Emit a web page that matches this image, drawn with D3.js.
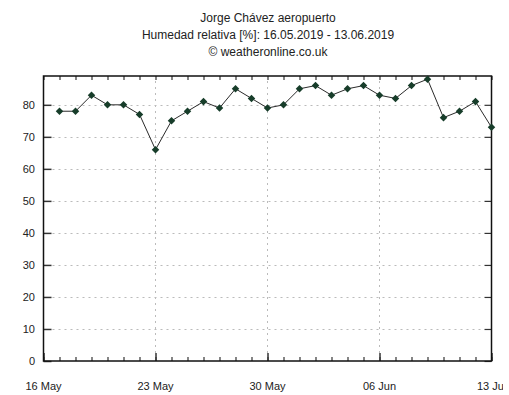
<!DOCTYPE html>
<html>
<head>
<meta charset="utf-8">
<script src="https://cdn.jsdelivr.net/npm/d3@7"></script>
<style>
  body { margin: 0; background: #fff; }
  text { font-family: "Liberation Sans", Arial, sans-serif; fill: #222; }
</style>
</head>
<body>
<div id="chart"></div>
<script>
// title lines
const titles = ['Jorge Chávez aeropuerto', 'Humedad relativa [%]: 16.05.2019 - 13.06.2019', '© weatheronline.co.uk'];

// daily humidity, 17 May .. 13 Jun 2019
const days = [
    '2019-05-17', '2019-05-18', '2019-05-19', '2019-05-20', '2019-05-21', '2019-05-22', '2019-05-23',
    '2019-05-24', '2019-05-25', '2019-05-26', '2019-05-27', '2019-05-28', '2019-05-29', '2019-05-30',
    '2019-05-31', '2019-06-01', '2019-06-02', '2019-06-03', '2019-06-04', '2019-06-05', '2019-06-06',
    '2019-06-07', '2019-06-08', '2019-06-09', '2019-06-10', '2019-06-11', '2019-06-12', '2019-06-13'
];
const humidity = [78, 78, 83, 80, 80, 77, 66, 75, 78, 81, 79, 85, 82, 79, 80, 85, 86, 83, 85, 86, 83, 82, 86, 88, 76, 78, 81, 73];
const yTicks = [0, 10, 20, 30, 40, 50, 60, 70, 80];
const xLabels = ['2019-05-16', '2019-05-23', '2019-05-30', '2019-06-06', '2019-06-13'];

const width = 509, height = 395;
const plot = { left: 43.5, right: 491.5, top: 76, bottom: 361 };

const parse = d3.utcParse('%Y-%m-%d');
const data = days.map((d, i) => ({ date: parse(d), value: humidity[i] }));

const svg = d3.select('#chart').append('svg')
    .attr('width', width)
    .attr('height', height);

// the last date label is cut off at the image edge
svg.append('clipPath')
    .attr('id', 'labclip')
    .append('rect')
    .attr('x', 0)
    .attr('y', 0)
    .attr('width', 503)
    .attr('height', height);

svg.selectAll('.title')
    .data(titles)
    .enter()
    .append('text')
    .attr('class', 'title')
    .attr('x', 268)
    .attr('y', (d, i) => 22 + i * 17)
    .style('text-anchor', 'middle')
    .style('font-size', '12px')
    .text((d) => d);

const x = d3.scaleUtc().domain([parse('2019-05-16'), parse('2019-06-13')]).range([plot.left, plot.right]);
const y = d3.scaleLinear().domain([0, 89]).range([plot.bottom, plot.top]);

const dayTicks = d3.utcDay.range(parse('2019-05-16'), d3.utcDay.offset(parse('2019-06-13'), 1));
const weekTicks = xLabels.map(parse);

// grid
const grid = svg.append('g')
    .attr('stroke', '#bbb')
    .attr('stroke-dasharray', '2,4')
    .attr('stroke-width', 1);
grid.selectAll('.hg')
    .data(yTicks.slice(1))
    .enter()
    .append('line')
    .attr('x1', plot.left + 9)
    .attr('x2', plot.right - 8)
    .attr('y1', (d) => Math.round(y(d)) + 0.5)
    .attr('y2', (d) => Math.round(y(d)) + 0.5);
grid.selectAll('.vg')
    .data(weekTicks.slice(1, -1))
    .enter()
    .append('line')
    .attr('x1', (d) => x(d))
    .attr('x2', (d) => x(d))
    .attr('y1', plot.top + 5)
    .attr('y2', plot.bottom - 8);

// axes
const yAxis = svg.append('g')
    .attr('transform', `translate(${plot.left},0)`)
    .call(d3.axisRight(y).tickValues(yTicks).tickSize(8).tickFormat(''));
yAxis.select('.domain').remove();
yAxis.selectAll('line').attr('stroke', '#333').attr('stroke-width', 1.5);

svg.selectAll('.ylab')
    .data(yTicks)
    .enter()
    .append('text')
    .attr('class', 'ylab')
    .attr('x', 35)
    .attr('y', (d) => y(d) + 4)
    .style('text-anchor', 'end')
    .style('font-size', '11px')
    .text((d) => d);

const rAxis = svg.append('g')
    .attr('transform', `translate(${plot.right},0)`)
    .call(d3.axisLeft(y).tickValues(yTicks).tickSize(7).tickFormat(''));
rAxis.select('.domain').remove();
rAxis.selectAll('line').attr('stroke', '#333').attr('stroke-width', 1.2);

const minorB = svg.append('g')
    .attr('transform', `translate(0,${plot.bottom})`)
    .call(d3.axisTop(x).tickValues(dayTicks).tickSize(4).tickFormat(''));
minorB.select('.domain').remove();
minorB.selectAll('line').attr('stroke', '#333').attr('stroke-width', 1.2);

const majorB = svg.append('g')
    .attr('transform', `translate(0,${plot.bottom})`)
    .call(d3.axisTop(x).tickValues(weekTicks).tickSize(8).tickFormat(''));
majorB.select('.domain').remove();
majorB.selectAll('line').attr('stroke', '#333').attr('stroke-width', 1.5);

const minorT = svg.append('g')
    .attr('transform', `translate(0,${plot.top})`)
    .call(d3.axisBottom(x).tickValues(dayTicks).tickSize(4).tickFormat(''));
minorT.select('.domain').remove();
minorT.selectAll('line').attr('stroke', '#333').attr('stroke-width', 1.2);

svg.append('g')
    .attr('clip-path', 'url(#labclip)')
    .selectAll('.xlab')
    .data(weekTicks)
    .enter()
    .append('text')
    .attr('class', 'xlab')
    .attr('x', (d, i) => x(d) + (i === weekTicks.length - 1 ? 2 : 0))
    .attr('y', 390)
    .style('text-anchor', 'middle')
    .style('font-size', '11px')
    .text((d) => d3.utcFormat('%d %b')(d));

// frame
svg.append('rect')
    .attr('x', plot.left)
    .attr('y', plot.top)
    .attr('width', plot.right - plot.left)
    .attr('height', plot.bottom - plot.top)
    .attr('fill', 'none')
    .attr('stroke', '#111')
    .attr('stroke-width', 1.5);

// series
const line = d3.line().x((d) => x(d.date)).y((d) => y(d.value));
svg.append('path')
    .datum(data)
    .attr('d', line)
    .attr('fill', 'none')
    .attr('stroke', '#2a2a2a')
    .attr('stroke-width', 1);

svg.selectAll('.pt')
    .data(data)
    .enter()
    .append('path')
    .attr('class', 'pt')
    .attr('transform', (d) => `translate(${x(d.date)},${y(d.value)})`)
    .attr('d', d3.symbol().type(d3.symbolDiamond2).size(36))
    .attr('fill', '#173d2a');
</script>
</body>
</html>
